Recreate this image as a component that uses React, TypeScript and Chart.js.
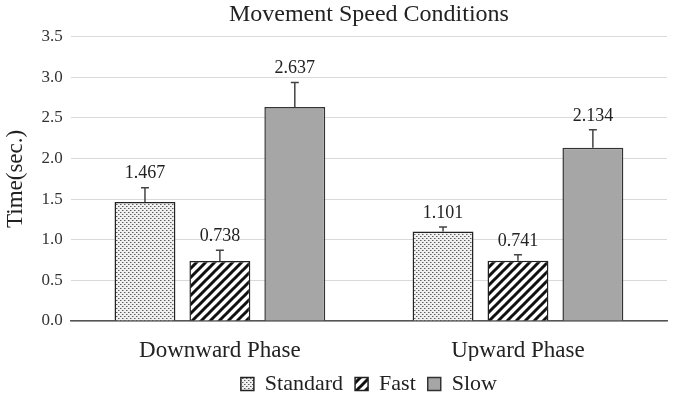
import React, { useEffect, useRef } from "react";
import { Chart, registerables } from "chart.js";

Chart.register(...registerables);

const categories = ["Downward Phase", "Upward Phase"];
const seriesNames = ["Standard", "Fast", "Slow"];
const standardValues = [1.467, 1.101];
const fastValues = [0.738, 0.741];
const slowValues = [2.637, 2.134];
const standardErrors = [0.175, 0.057];
const fastErrors = [0.134, 0.074];
const slowErrors = [0.3, 0.22];
const yTicks = [0, 0.5, 1.0, 1.5, 2.0, 2.5, 3.0, 3.5];

const SERIF = "'Liberation Serif', 'Times New Roman', serif";
const LEGEND_HEIGHT = 36;
const X_AXIS_HEIGHT = 40;

function makeDots(): CanvasPattern | string {
  const c = document.createElement("canvas");
  c.width = 4;
  c.height = 4;
  const ctx = c.getContext("2d");
  if (!ctx) return "#ddd";
  ctx.fillStyle = "#f0f0f0";
  ctx.fillRect(0, 0, 4, 4);
  ctx.fillStyle = "#5e5e5e";
  ctx.fillRect(0, 0, 1, 1);
  ctx.fillRect(2, 2, 1, 1);
  ctx.fillStyle = "#a8a8a8";
  ctx.fillRect(1, 0, 1, 1);
  ctx.fillRect(3, 2, 1, 1);
  return ctx.createPattern(c, "repeat") || "#ddd";
}

function makeStripes(): CanvasPattern | string {
  const s = 9;
  const c = document.createElement("canvas");
  c.width = s;
  c.height = s;
  const ctx = c.getContext("2d");
  if (!ctx) return "#888";
  ctx.fillStyle = "#ffffff";
  ctx.fillRect(0, 0, s, s);
  ctx.strokeStyle = "#111";
  ctx.lineWidth = 3;
  ctx.beginPath();
  ctx.moveTo(-s, s);
  ctx.lineTo(s, -s);
  ctx.moveTo(0, s);
  ctx.lineTo(s, 0);
  ctx.moveTo(0, 2 * s);
  ctx.lineTo(2 * s, 0);
  ctx.stroke();
  return ctx.createPattern(c, "repeat") || "#888";
}

const legendHeightPlugin = {
  id: "legendHeight",
  beforeLayout(chart: any) {
    const lg = chart.legend;
    if (lg && !lg.__patched) {
      const orig = lg.fit;
      lg.fit = function (this: any) {
        orig.call(this);
        this.height = LEGEND_HEIGHT;
      };
      lg.__patched = true;
    }
  },
};

const errorPlugin = {
  id: "errorLabels",
  afterDatasetsDraw(chart: any) {
    const ctx = chart.ctx;
    const yScale = chart.scales.y;
    const errs = [standardErrors, fastErrors, slowErrors];
    chart.data.datasets.forEach((ds: any, di: number) => {
      const meta = chart.getDatasetMeta(di);
      meta.data.forEach((bar: any, i: number) => {
        const v = ds.data[i] as number;
        const e = errs[di][i];
        const yTop = yScale.getPixelForValue(v + e);
        const yBar = yScale.getPixelForValue(v);
        ctx.save();
        ctx.strokeStyle = "#444";
        ctx.lineWidth = 1.5;
        ctx.beginPath();
        ctx.moveTo(bar.x, yBar);
        ctx.lineTo(bar.x, yTop);
        ctx.moveTo(bar.x - 4, yTop);
        ctx.lineTo(bar.x + 4, yTop);
        ctx.stroke();
        ctx.fillStyle = "#222";
        ctx.font = "18px " + SERIF;
        ctx.textAlign = "center";
        ctx.textBaseline = "bottom";
        ctx.fillText(v.toFixed(3), bar.x, yTop - 5);
        ctx.restore();
      });
    });
  },
};

export default function App() {
  const ref = useRef<HTMLCanvasElement | null>(null);
  useEffect(() => {
    if (!ref.current) return;
    const dots = makeDots();
    const stripes = makeStripes();
    const chart = new Chart(ref.current, {
      type: "bar",
      data: {
        labels: categories,
        datasets: [
          { label: seriesNames[0], data: standardValues, backgroundColor: dots as any, borderColor: "#222", borderWidth: 1.5 },
          { label: seriesNames[1], data: fastValues, backgroundColor: stripes as any, borderColor: "#222", borderWidth: 1.5 },
          { label: seriesNames[2], data: slowValues, backgroundColor: "#a6a6a6", borderColor: "#333", borderWidth: 1.5 },
        ],
      },
      options: {
        responsive: false,
        animation: false,
        layout: { padding: { left: 2, right: 8, top: 0, bottom: 0 } },
        datasets: { bar: { categoryPercentage: 0.754, barPercentage: 0.813 } },
        plugins: {
          title: {
            display: true,
            text: "Movement Speed Conditions",
            fullSize: false,
            color: "#222",
            font: { family: SERIF, size: 24, weight: "normal" },
            padding: { top: 0, bottom: 8 },
          },
          legend: {
            position: "bottom",
            fullSize: false,
            labels: {
              color: "#222",
              font: { family: SERIF, size: 22, lineHeight: 1.0 },
              boxWidth: 13,
              boxHeight: 13,
              padding: 12,
            },
          },
          tooltip: { enabled: false },
        },
        scales: {
          x: {
            grid: { display: false, drawTicks: false },
            border: { color: "#555", width: 1.5 },
            ticks: { color: "#222", font: { family: SERIF, size: 23, lineHeight: 0.8 }, padding: 21 },
            afterFit: (scale: any) => {
              scale.height = X_AXIS_HEIGHT;
            },
          },
          y: {
            min: 0,
            max: 3.5,
            afterBuildTicks: (axis: any) => {
              axis.ticks = yTicks.map((v) => ({ value: v }));
            },
            grid: { color: "#d9d9d9", drawTicks: false },
            border: { display: false },
            ticks: {
              color: "#333",
              font: { family: SERIF, size: 17 },
              padding: 8,
              callback: (v: any) => Number(v).toFixed(1),
            },
            title: {
              display: true,
              text: "Time(sec.)",
              color: "#222",
              font: { family: SERIF, size: 23 },
              padding: { top: 0, bottom: 4 },
            },
          },
        },
      },
      plugins: [legendHeightPlugin, errorPlugin],
    });
    return () => chart.destroy();
  }, []);
  return (
    <div style={{ position: "absolute", left: 0, top: 0, width: 675, height: 397, background: "#fff" }}>
      <canvas ref={ref} width={675} height={397} />
    </div>
  );
}
